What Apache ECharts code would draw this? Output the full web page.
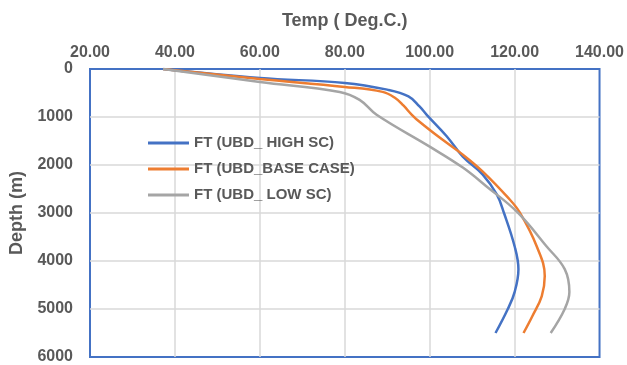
<!DOCTYPE html>
<html>
<head>
    <meta charset="utf-8">
    <title>Temp vs Depth</title>
    <script src="https://cdn.jsdelivr.net/npm/echarts@6/dist/echarts.min.js"></script>
</head>
<body style="margin:0">
    <div id="main" style="width:627px;height:365px;"></div>
    <script type="text/javascript">
        // [temp degC, depth m]
        var highSC = [[37.2,0],[60,187],[80,290],[90,430],[95,570],[97.6,780],[99.3,954],[104,1400],[107.8,1826],[112.5,2199],[115.8,2614],[117.5,3000],[120,3693],[120.9,4170],[120,4647],[118.4,5000],[115.5,5500]];
        var baseCase = [[37.2,0],[60,207],[80,373],[88.9,477],[91.8,600],[93.8,760],[95.8,954],[97.6,1100],[102.5,1440],[107.8,1784],[112.5,2137],[118.4,2676],[121.2,2988],[125.2,3693],[127.1,4315],[126.4,4730],[124.2,5145],[122.1,5500]];
        var lowSC = [[37.2,0],[60,270],[78.8,477],[83.5,643],[87.5,954],[100,1618],[107.8,2054],[113.4,2448],[120.7,2988],[127.5,3693],[131.8,4170],[132.9,4647],[131.8,5000],[128.5,5500]];
        var seriesNames = ['FT (UBD_ HIGH SC)', 'FT (UBD_BASE CASE)', 'FT (UBD_ LOW SC)'];

        var txt = '#595959';
        var font = 'Liberation Sans';
        var myChart = echarts.init(document.getElementById('main'));

        function line(name, data) {
            return {
                name: name, type: 'line', data: data,
                smooth: 0.4, symbol: 'none',
                lineStyle: {width: 2.5}
            };
        }

        var grid = {lineStyle: {color: '#d9d9d9', width: 1.5}, showMinLine: false, showMaxLine: false};

        var option = {
            color: ['#4472C4', '#ED7D31', '#A5A5A5'],
            animation: false,
            textStyle: {fontFamily: font},
            grid: {
                left: 90, right: 27, top: 69, bottom: 7,
                show: true, borderColor: '#4472C4', borderWidth: 2
            },
            legend: {
                orient: 'vertical', left: 148, top: 134, padding: 0,
                icon: 'rect', itemWidth: 41, itemHeight: 3, itemGap: 8,
                textStyle: {color: txt, fontSize: 15, fontWeight: 'bold', fontFamily: font, lineHeight: 18},
                data: seriesNames
            },
            xAxis: {
                type: 'value', position: 'top',
                min: 20, max: 140, interval: 20,
                name: 'Temp ( Deg.C.)', nameLocation: 'middle', nameGap: 39,
                nameTextStyle: {color: txt, fontSize: 18, fontWeight: 'bold'},
                axisLine: {show: false}, axisTick: {show: false},
                axisLabel: {color: txt, fontSize: 16, fontWeight: 'bold', margin: 8,
                    formatter: function (v) { return v.toFixed(2); }},
                splitLine: grid
            },
            yAxis: {
                type: 'value', inverse: true,
                min: 0, max: 6000, interval: 1000,
                name: 'Depth (m)', nameLocation: 'middle', nameGap: 60,
                nameTextStyle: {color: txt, fontSize: 18, fontWeight: 'bold'},
                axisLine: {show: false}, axisTick: {show: false},
                axisLabel: {color: txt, fontSize: 16, fontWeight: 'bold', margin: 17,
                    formatter: function (v) { return String(v); }},
                splitLine: grid
            },
            series: [
                line(seriesNames[0], highSC),
                line(seriesNames[1], baseCase),
                line(seriesNames[2], lowSC)
            ]
        };

        myChart.setOption(option);
    </script>
</body>
</html>
